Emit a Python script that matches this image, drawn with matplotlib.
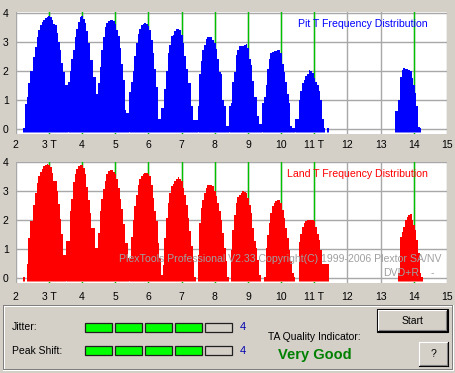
import matplotlib
matplotlib.use('Agg')
import matplotlib.pyplot as plt
from matplotlib.patches import Rectangle
import numpy as np

# histogram bin width (in T units) and bar floor
BIN = 0.05
BASE = -0.13

# Pit T distribution: start of each run of bins, and bin heights
pit_starts = [2.23, 3.58, 4.48, 5.43, 6.38, 7.48, 8.43, 9.43, 10.43, 11.38, 13.43]
pit_heights = [
    [0.05, 0.86, 1.09, 1.59, 2.0, 2.0, 2.49, 2.83, 3.15, 3.4, 3.57, 3.69, 3.75, 3.82,
     3.86, 3.88, 3.84, 3.76, 3.62, 3.57, 3.31, 3.0, 2.71, 2.26, 1.97, 1.51, 1.52],
    [1.62, 2.0, 2.4, 2.7, 3.15, 3.45, 3.69, 3.84, 3.88, 3.8, 3.64, 3.38, 2.95, 2.38,
     2.37, 1.8, 1.8, 1.22],
    [1.59, 2.13, 2.73, 3.17, 3.5, 3.65, 3.72, 3.74, 3.75, 3.72, 3.6, 3.4, 3.2, 2.8,
     2.25, 1.67, 0.64, 0.55, 0.55],
    [1.28, 1.62, 2.0, 2.5, 2.95, 3.27, 3.45, 3.57, 3.62, 3.63, 3.6, 3.55, 3.4, 3.05,
     2.6, 2.05, 1.45, 0.35, 0.33],
    [0.72, 0.72, 1.37, 2.0, 2.6, 2.9, 3.2, 3.25, 3.37, 3.43, 3.45, 3.4, 3.25, 2.95,
     2.5, 2.06, 1.57, 1.57, 0.8, 0.3, 0.3, 0.3],
    [0.8, 1.9, 2.35, 2.7, 2.9, 3.1, 3.15, 3.18, 3.15, 3.05, 2.95, 2.75, 2.4, 1.95,
     1.9, 1.0, 0.8, 0.1, 0.1],
    [0.8, 0.9, 1.6, 1.95, 2.55, 2.7, 2.85, 2.86, 2.87, 2.9, 2.92, 2.8, 2.4, 2.2,
     1.65, 1.1, 1.1, 0.45, 0.17, 0.17],
    [0.9, 1.1, 1.5, 2.05, 2.4, 2.6, 2.65, 2.67, 2.68, 2.7, 2.7, 2.6, 2.25, 1.95,
     1.6, 1.2, 0.9, 0.1, 0.03, 0.03],
    [0.34, 0.34, 1.0, 1.3, 1.57, 1.7, 1.82, 1.9, 2.03, 2.0, 1.93, 1.74, 1.6, 1.51,
     1.3, 1.0, 0.34, 0.03],
    [0.03],
    [0.63, 0.63, 1.0, 1.8, 2.03, 2.1, 2.08, 2.05, 2.03, 2.0, 1.74, 1.5, 1.23, 0.79,
     0.08, 0.03],
]

# Land T distribution
land_starts = [2.23, 2.33, 3.53, 4.48, 5.43, 6.43, 7.48, 8.48, 9.48, 10.53, 13.53]
land_heights = [
    [0.05],
    [0.48, 1.38, 1.95, 1.95, 2.5, 2.93, 3.28, 3.5, 3.65, 3.77, 3.85, 3.9, 3.92, 3.9,
     3.82, 3.63, 3.35, 3.35, 3.0, 2.55, 2.03, 1.5, 0.81, 0.81],
    [1.27, 1.27, 2.3, 2.72, 3.3, 3.57, 3.77, 3.85, 3.9, 3.88, 3.8, 3.6, 3.15, 2.7,
     2.25, 1.72, 1.72, 1.03, 1.03],
    [1.55, 2.3, 2.72, 3.07, 3.35, 3.6, 3.7, 3.73, 3.73, 3.67, 3.57, 3.4, 3.1, 2.72,
     2.37, 1.85, 1.2, 1.2, 0.7],
    [0.7, 1.43, 2.0, 2.47, 2.87, 3.22, 3.42, 3.5, 3.58, 3.62, 3.62, 3.58, 3.5, 3.22,
     2.75, 2.3, 1.95, 1.2, 0.7, 0.1],
    [0.46, 1.38, 2.07, 2.59, 2.93, 3.16, 3.24, 3.33, 3.43, 3.48, 3.43, 3.33, 3.1, 2.87,
     2.53, 2.07, 1.61, 1.1, 0.63, 0.05],
    [0.8, 1.9, 2.41, 2.7, 2.93, 3.1, 3.2, 3.22, 3.22, 3.16, 2.99, 2.82, 2.59, 2.3,
     2.01, 1.55, 1.03, 0.57, 0.03],
    [0.98, 1.67, 2.18, 2.59, 2.78, 2.87, 2.93, 2.99, 2.96, 2.93, 2.76, 2.53, 2.24, 1.72,
     1.26, 1.03, 0.63, 0.11],
    [0.03, 1.03, 1.49, 1.9, 2.24, 2.47, 2.59, 2.64, 2.7, 2.68, 2.59, 2.36, 2.07, 1.72,
     1.38, 0.98, 0.57, 0.17, 0.03],
    [1.25, 1.5, 1.77, 1.88, 1.95, 2.0, 2.0, 2.0, 2.0, 1.95, 1.75, 1.5, 1.3, 0.98,
     0.5, 0.5, 0.5, 0.5],
    [0.16, 1.42, 1.6, 1.75, 2.0, 2.11, 2.18, 2.2, 2.0, 1.83, 1.66, 1.31, 0.85, 0.16, 0.05],
]

t_ticks = list(range(2, 16))
t_labels = ['2', '3 T', '4', '5', '6', '7', '8', '9', '10', '11 T', '12', '13', '14', '15']
y_ticks = [0, 1, 2, 3, 4]
marker_t = [3, 4, 5, 6, 7, 8, 9, 10, 11, 14]

jitter_level = 4
peak_shift_level = 4
n_segments = 5
quality = 'Very Good'

BG = '#d4d0c8'
FONT = 'Liberation Sans'
plt.rcParams['font.family'] = [FONT, 'DejaVu Sans']

fig = plt.figure(figsize=(4.56, 3.73), dpi=100, facecolor=BG)
W, H = 456, 373


def px_axes(x0, y0, x1, y1):
    return fig.add_axes([x0 / W, 1 - y1 / H, (x1 - x0) / W, (y1 - y0) / H])


def draw_dist(ax, starts, heights, color, title, ylim, xpad):
    ax.set_facecolor('white')
    ax.set_xlim(2, 15)
    ax.set_ylim(*ylim)
    for s in ax.spines.values():
        s.set_visible(False)
    for t in t_ticks:
        ax.axvline(t, color='#a8a8a8', lw=1, zorder=1)
    for y in y_ticks:
        ax.axhline(y, color='#a8a8a8', lw=1, zorder=1)
    for t in marker_t:
        ax.axvline(t, color='#00c000', lw=1, zorder=2)
    for s, h in zip(starts, heights):
        h = np.asarray(h)
        edges = s + BIN * np.arange(len(h) + 1)
        ax.stairs(h, edges, baseline=BASE, fill=True, color=color, lw=0, zorder=3)
        # dotted bottom row of the histogram
        ax.hlines(BASE + 0.02, edges[0], edges[-1], colors='white', lw=0.72,
                  linestyles=(0, (1, 1)), zorder=4)
    ax.set_xticks(t_ticks)
    ax.set_xticklabels(t_labels)
    ax.set_yticks(y_ticks)
    ax.tick_params(length=0, labelsize=7.5)
    ax.tick_params(axis='x', pad=xpad)
    ax.tick_params(axis='y', pad=5)
    ax.text(0.955, 0.9, title, transform=ax.transAxes, ha='right', va='center',
            color=color, fontsize=7.6, zorder=5)


ax1 = px_axes(15.7, 12, 447, 134)
draw_dist(ax1, pit_starts, pit_heights, '#0000ff', 'Pit T Frequency Distribution',
          (-0.172, 4.024), 4)
ax2 = px_axes(15.7, 161.7, 447, 282.7)
draw_dist(ax2, land_starts, land_heights, '#ff0000', 'Land T Frequency Distribution',
          (-0.162, 4.01), 6.5)

# UI overlay in pixel coordinates
ui = fig.add_axes([0, 0, 1, 1], zorder=5)
ui.set_xlim(0, W)
ui.set_ylim(H, 0)
ui.axis('off')
ui.patch.set_visible(False)

ui.text(442, 259.5, 'PlexTools Professional V2.33 Copyright(C) 1999-2006 Plextor SA/NV',
        ha='right', va='center', color='#a0a0a0', fontsize=7.6)
ui.text(419, 273, 'DVD+R', ha='right', va='center', color='#a0a0a0', fontsize=7.6)
ui.text(432, 273, '-', ha='center', va='center', color='#a0a0a0', fontsize=7.6)

# sunken panel
ui.plot([3, 453], [305, 305], color='#808080', lw=0.72)
ui.plot([3, 3], [305, 370], color='#808080', lw=0.72)
ui.plot([4, 452], [306, 306], color='white', lw=0.72)
ui.plot([4, 4], [306, 369], color='white', lw=0.72)
ui.plot([3, 453], [370, 370], color='white', lw=0.72)
ui.plot([453, 453], [305, 370], color='white', lw=0.72)
ui.plot([4, 452], [369, 369], color='#808080', lw=0.72)
ui.plot([452, 452], [306, 369], color='#808080', lw=0.72)

for label, level, yc in [('Jitter:', jitter_level, 327), ('Peak Shift:', peak_shift_level, 350.5)]:
    ui.text(12, yc, label, ha='left', va='center', fontsize=7.5)
    for i in range(n_segments):
        x0 = 85.5 + i * 30
        fc = '#00ff00' if i < level else BG
        ui.add_patch(Rectangle((x0, yc - 4.5), 27, 9, facecolor=fc, edgecolor='#202020', lw=0.9))
    ui.text(243, yc, str(level), ha='center', va='center', color='#0000b0', fontsize=8)

ui.text(268, 337, 'TA Quality Indicator:', ha='left', va='center', fontsize=7.5)
ui.text(315, 355.5, quality, ha='center', va='center', color='#008000', fontsize=10.5,
        fontweight='bold')


def button(x0, y0, x1, y1, label, default=False):
    ui.add_patch(Rectangle((x0, y0), x1 - x0, y1 - y0, facecolor=BG, edgecolor='none'))
    if default:
        ui.add_patch(Rectangle((x0, y0), x1 - x0, y1 - y0, facecolor='none',
                               edgecolor='black', lw=0.8))
        x0, y0, x1, y1 = x0 + 1, y0 + 1, x1 - 1, y1 - 1
    ui.plot([x0, x1], [y0, y0], color='white', lw=0.8)
    ui.plot([x0, x0], [y0, y1], color='white', lw=0.8)
    ui.plot([x0, x1], [y1, y1], color='black', lw=0.8)
    ui.plot([x1, x1], [y0, y1], color='black', lw=0.8)
    ui.plot([x0 + 1, x1 - 1], [y1 - 1, y1 - 1], color='#808080', lw=0.8)
    ui.plot([x1 - 1, x1 - 1], [y0 + 1, y1 - 1], color='#808080', lw=0.8)
    ui.text((x0 + x1) / 2, (y0 + y1) / 2, label, ha='center', va='center', fontsize=7.5)


button(377, 309, 448, 332, 'Start', default=True)
button(419, 342, 448, 366, '?')

fig.savefig('out.png', dpi=100, facecolor=BG)
